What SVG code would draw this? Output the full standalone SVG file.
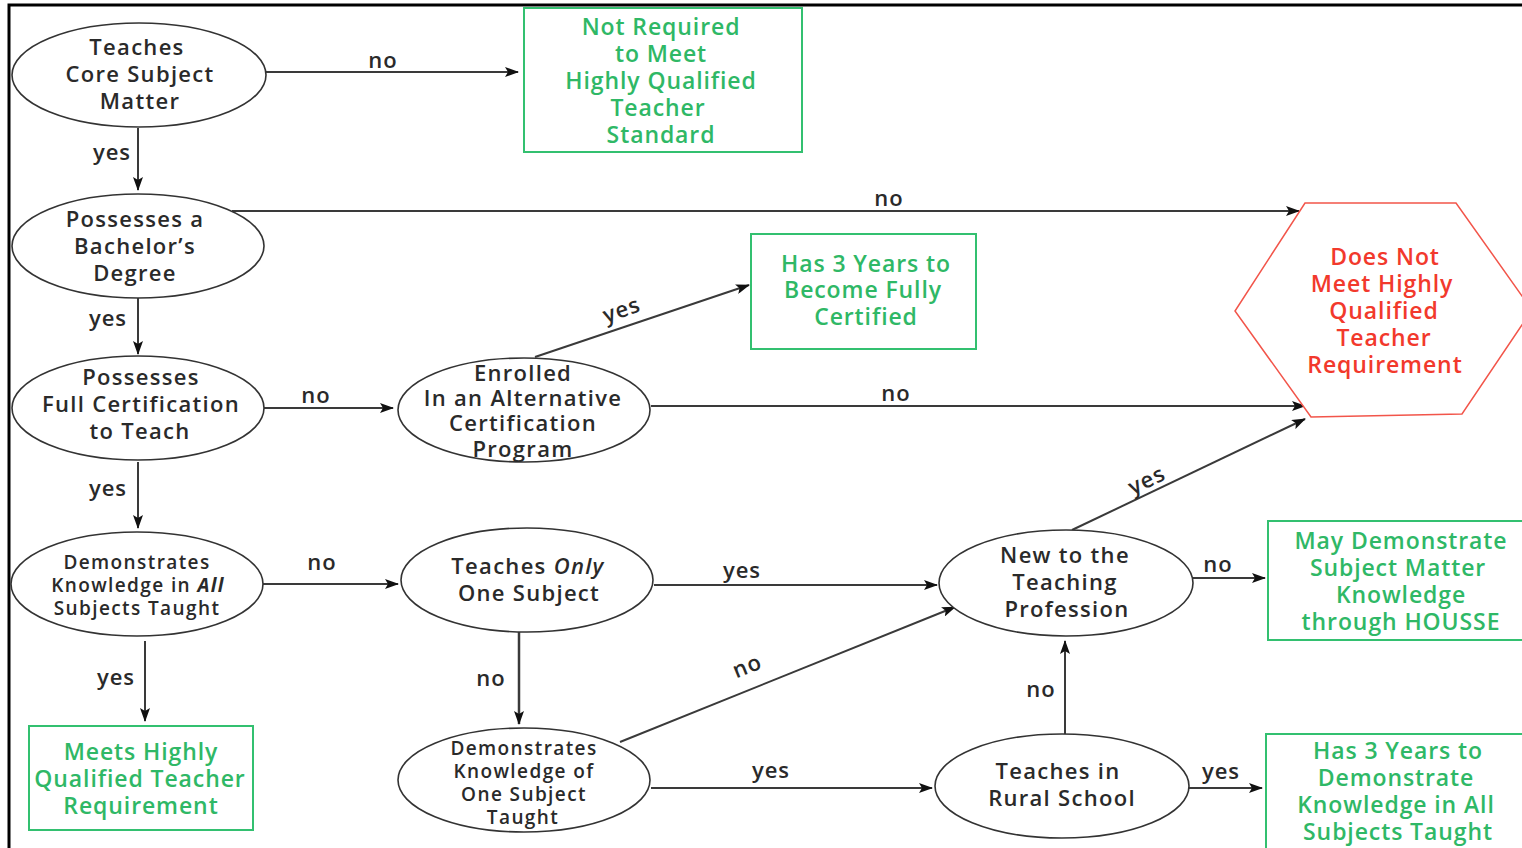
<svg xmlns="http://www.w3.org/2000/svg" width="1522" height="848" viewBox="0 0 1522 848">
<style>
.e{fill:#fff;stroke:#333;stroke-width:1.6}
.b{fill:#fff;stroke:#33c070;stroke-width:2}
.t{font-family:"Open Sans","Liberation Sans",sans-serif;font-size:22px;font-weight:600;letter-spacing:1.3px;fill:#2a2a2a;text-anchor:middle}
.s{font-size:19px;letter-spacing:1.4px}
.g{fill:#2fb866;font-size:23px;letter-spacing:0.9px}
.r{fill:#f2392c;font-size:23px;letter-spacing:0.9px}
.c{stroke:#3a3a3a;stroke-width:2;fill:none;marker-end:url(#a)}
.l{font-family:"Open Sans","Liberation Sans",sans-serif;font-size:22px;font-weight:600;letter-spacing:1px;fill:#2a2a2a;text-anchor:middle}
</style>
<defs>
<marker id="a" viewBox="0 0 14 10" refX="13" refY="5" markerWidth="14" markerHeight="10" markerUnits="userSpaceOnUse" orient="auto">
<path d="M0,0 L14,5 L0,10 L3,5 Z" fill="#111"/>
</marker>
</defs>
<rect x="0" y="0" width="1522" height="848" fill="#fff"/>
<path d="M9,848 V5 H1522" fill="none" stroke="#000" stroke-width="3"/>

<g id="connectors">
<line class="c" x1="266" y1="72" x2="518" y2="72"/>
<text class="l" x="383" y="68">no</text>
<line class="c" x1="138" y1="128" x2="138" y2="190"/>
<text class="l" x="112" y="160">yes</text>
<line class="c" x1="232" y1="211" x2="1299" y2="211"/>
<text class="l" x="889" y="206">no</text>
<line class="c" x1="138" y1="298" x2="138" y2="354"/>
<text class="l" x="108" y="326">yes</text>
<line class="c" x1="264" y1="408" x2="393" y2="408"/>
<text class="l" x="316" y="403">no</text>
<line class="c" x1="535" y1="357" x2="749" y2="285"/>
<text class="l" transform="translate(624,317) rotate(-19)">yes</text>
<line class="c" x1="651" y1="406" x2="1305" y2="406"/>
<text class="l" x="896" y="401">no</text>
<line class="c" x1="138" y1="462" x2="138" y2="528"/>
<text class="l" x="108" y="496">yes</text>
<line class="c" x1="263" y1="584" x2="398" y2="584"/>
<text class="l" x="322" y="570">no</text>
<line class="c" x1="145" y1="641" x2="145" y2="721"/>
<text class="l" x="116" y="685">yes</text>
<line class="c" x1="654" y1="585" x2="937" y2="585"/>
<text class="l" x="742" y="578">yes</text>
<line class="c" x1="519" y1="632" x2="519" y2="724" style="stroke-width:2.5"/>
<text class="l" x="491" y="686">no</text>
<line class="c" x1="620" y1="742" x2="955" y2="607"/>
<text class="l" transform="translate(750,673) rotate(-22)">no</text>
<line class="c" x1="651" y1="788" x2="932" y2="788"/>
<text class="l" x="771" y="778">yes</text>
<line class="c" x1="1065" y1="734" x2="1065" y2="641"/>
<text class="l" x="1041" y="697">no</text>
<line class="c" x1="1072" y1="530" x2="1305" y2="419"/>
<text class="l" transform="translate(1150,487) rotate(-26)">yes</text>
<line class="c" x1="1193" y1="578" x2="1265" y2="578"/>
<text class="l" x="1218" y="572">no</text>
<line class="c" x1="1189" y1="788" x2="1262" y2="788"/>
<text class="l" x="1221" y="779">yes</text>
</g>

<g id="n1"><ellipse class="e" cx="139" cy="75" rx="127" ry="52"/>
<text class="t"><tspan x="137" y="55">Teaches</tspan><tspan x="140" y="82">Core Subject</tspan><tspan x="140" y="109">Matter</tspan></text></g>
<g id="n2"><ellipse class="e" cx="138" cy="246" rx="126" ry="52"/>
<text class="t"><tspan x="135" y="227">Possesses a</tspan><tspan x="135" y="254">Bachelor’s</tspan><tspan x="135" y="281">Degree</tspan></text></g>
<g id="n3"><ellipse class="e" cx="138" cy="408" rx="126" ry="52"/>
<text class="t"><tspan x="141" y="385">Possesses</tspan><tspan x="141" y="412">Full Certification</tspan><tspan x="140" y="439">to Teach</tspan></text></g>
<g id="n4"><ellipse class="e" cx="137" cy="584" rx="126" ry="52"/>
<text class="t s"><tspan x="137" y="569">Demonstrates</tspan><tspan x="138" y="592">Knowledge in <tspan font-weight="bold" font-style="italic">All</tspan></tspan><tspan x="137" y="615">Subjects Taught</tspan></text></g>
<g id="n5"><ellipse class="e" cx="524" cy="410" rx="126" ry="52"/>
<text class="t"><tspan x="523" y="381">Enrolled</tspan><tspan x="523" y="406">In an Alternative</tspan><tspan x="523" y="431">Certification</tspan><tspan x="523" y="457">Program</tspan></text></g>
<g id="n6"><ellipse class="e" cx="527" cy="580" rx="126" ry="52"/>
<text class="t"><tspan x="528" y="574">Teaches <tspan font-style="italic">Only</tspan></tspan><tspan x="529" y="601">One Subject</tspan></text></g>
<g id="n7"><ellipse class="e" cx="524" cy="780" rx="126" ry="52"/>
<text class="t s"><tspan x="524" y="755">Demonstrates</tspan><tspan x="524" y="778">Knowledge of</tspan><tspan x="524" y="801">One Subject</tspan><tspan x="523" y="824">Taught</tspan></text></g>
<g id="n8"><ellipse class="e" cx="1066" cy="583" rx="127" ry="53"/>
<text class="t"><tspan x="1065" y="563">New to the</tspan><tspan x="1065" y="590">Teaching</tspan><tspan x="1067" y="617">Profession</tspan></text></g>
<g id="n9"><ellipse class="e" cx="1062" cy="786" rx="127" ry="52"/>
<text class="t"><tspan x="1058" y="779">Teaches in</tspan><tspan x="1062" y="806">Rural School</tspan></text></g>

<g id="b1"><rect class="b" x="524" y="8" width="278" height="144"/>
<text class="t g"><tspan x="661" y="35">Not Required</tspan><tspan x="661" y="62">to Meet</tspan><tspan x="661" y="89">Highly Qualified</tspan><tspan x="658" y="116">Teacher</tspan><tspan x="661" y="143">Standard</tspan></text></g>
<g id="b2"><rect class="b" x="751" y="234" width="225" height="115"/>
<text class="t g"><tspan x="866" y="272">Has 3 Years to</tspan><tspan x="863" y="298">Become Fully</tspan><tspan x="866" y="325">Certified</tspan></text></g>
<g id="b3"><rect class="b" x="1268" y="521" width="262" height="119"/>
<text class="t g"><tspan x="1401" y="549">May Demonstrate</tspan><tspan x="1398" y="576">Subject Matter</tspan><tspan x="1401" y="603">Knowledge</tspan><tspan x="1401" y="630">through HOUSSE</tspan></text></g>
<g id="b4"><rect class="b" x="1266" y="734" width="264" height="124"/>
<text class="t g"><tspan x="1398" y="759">Has 3 Years to</tspan><tspan x="1396" y="786">Demonstrate</tspan><tspan x="1396" y="813">Knowledge in All</tspan><tspan x="1398" y="840">Subjects Taught</tspan></text></g>
<g id="b5"><rect class="b" x="29" y="726" width="224" height="104"/>
<text class="t g"><tspan x="141" y="760">Meets Highly</tspan><tspan x="140" y="787">Qualified Teacher</tspan><tspan x="141" y="814">Requirement</tspan></text></g>
<g id="hex"><polygon points="1305,203 1456,203 1532,310 1462,414 1311,417 1235,311" fill="#fff" stroke="#f2554a" stroke-width="1.5"/>
<text class="t r"><tspan x="1385" y="265">Does Not</tspan><tspan x="1382" y="292">Meet Highly</tspan><tspan x="1384" y="319">Qualified</tspan><tspan x="1384" y="346">Teacher</tspan><tspan x="1385" y="373">Requirement</tspan></text></g>
</svg>
